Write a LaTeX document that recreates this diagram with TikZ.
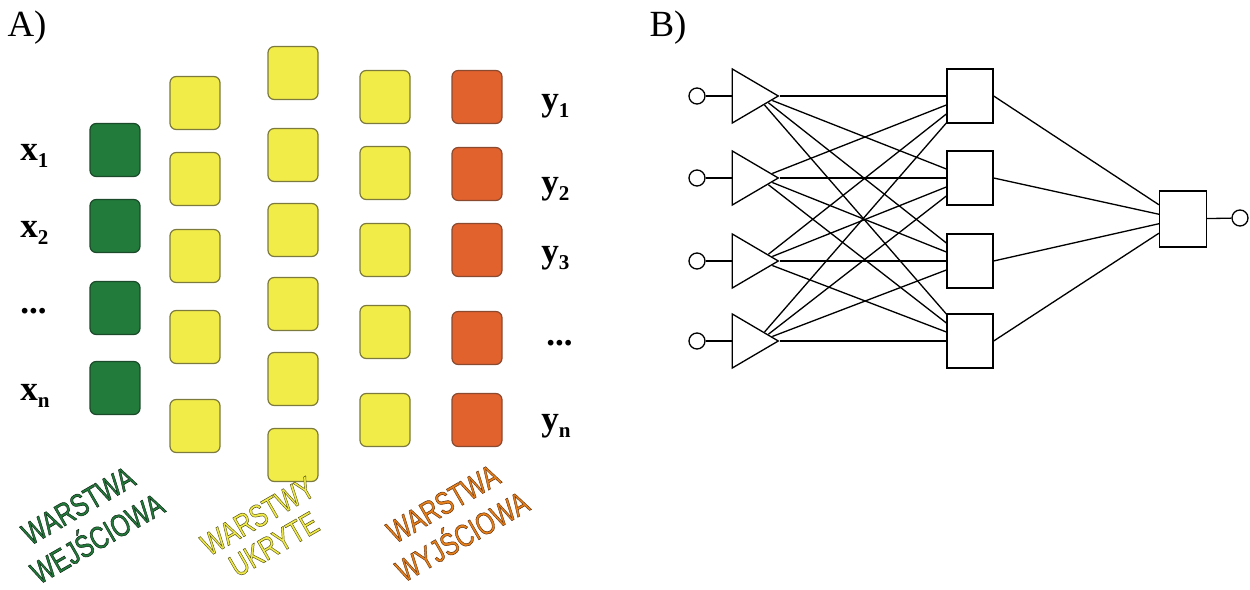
\documentclass[tikz,border=0pt]{standalone}
\usepackage{fontspec}
\setmainfont{Liberation Serif}
\newfontfamily\wordart{Liberation Sans}
\usetikzlibrary{calc}
\usetikzlibrary{shapes.geometric}
\RequirePackage{xcolor}
\definecolor{LAYERgreen}{HTML}{237B3B}
\definecolor{LAYERgreenline}{HTML}{1B4A2A}
\definecolor{LAYERyellow}{HTML}{F1EC48}
\definecolor{LAYERyellowline}{HTML}{7C7A3C}
\definecolor{LAYERorange}{HTML}{E2622E}
\definecolor{LAYERorangeline}{HTML}{8A4A30}
\definecolor{LAYERorangetext}{HTML}{E8801A}

\newcommand{\sublabel}[2]{#1\raisebox{-0.45ex}{\fontsize{12}{12}\selectfont #2}}
\newcommand{\outlined}[2]{\special{pdf:literal direct #1 RG 2 Tr 0.3 w}#2}

\begin{document}
\begin{tikzpicture}[x=0.02cm,y=-0.02cm,
  cell/.style={draw,rounded corners=3.5pt,line width=0.7pt,minimum width=1cm,minimum height=1.06cm,inner sep=0pt},
  inputcell/.style={cell,fill=LAYERgreen,draw=LAYERgreenline},
  hiddencell/.style={cell,fill=LAYERyellow,draw=LAYERyellowline},
  outputcell/.style={cell,fill=LAYERorange,draw=LAYERorangeline},
  varlabel/.style={font=\bfseries\fontsize{20}{20}\selectfont,inner sep=0pt,anchor=west},
  layertext/.style={rotate=30,inner sep=0pt,font=\wordart\fontsize{18}{18.5}\selectfont},
  wire/.style={line width=0.75pt},
  port/.style={draw,circle,line width=0.75pt,minimum size=0.32cm,inner sep=0pt},
  amp/.style={draw,isosceles triangle,isosceles triangle stretches,line width=0.75pt,minimum width=1.08cm,minimum height=0.92cm,inner sep=0pt,anchor=apex},
  unit/.style={draw,rectangle,line width=0.75pt,minimum width=0.92cm,minimum height=1.08cm,inner sep=0pt}]

\useasboundingbox (0,0) rectangle (1250,590);

% Panel A
\node[font=\fontsize{21}{21}\selectfont,inner sep=0pt] (panelA) at (27,28) {A)};

% input layer
\foreach \y [count=\k] in {150,226,308,388}
  \node[inputcell] (in\k) at (115,\y) {};

% hidden layers
\foreach \y [count=\k] in {103,179,256,337,426}
  \node[hiddencell] (ha\k) at (195,\y) {};
\foreach \y [count=\k] in {73,155,230,304,379,455}
  \node[hiddencell] (hb\k) at (293,\y) {};
\foreach \y [count=\k] in {97,173,250,332,420}
  \node[hiddencell] (hc\k) at (385,\y) {};

% output layer
\foreach \y [count=\k] in {97,174,250,338,420}
  \node[outputcell] (out\k) at (477,\y) {};

% variables
\node[varlabel] (x1) at (20,156) {\sublabel{x}{1}};
\node[varlabel] (x2) at (20,233) {\sublabel{x}{2}};
\node[varlabel] (xdots) at (20,311) {...};
\node[varlabel] (xn) at (20,396) {\sublabel{x}{n}};
\node[varlabel] (y1) at (541,106) {\sublabel{y}{1}};
\node[varlabel] (y2) at (541,189) {\sublabel{y}{2}};
\node[varlabel] (y3) at (541,258) {\sublabel{y}{3}};
\node[varlabel] (ydots) at (546,343) {...};
\node[varlabel] (yn) at (541,426) {\sublabel{y}{n}};

% layer names
\node[layertext,text=LAYERgreen] (inname) at (90,526)
  {\scalebox{0.76}[1]{\outlined{0.05 0.15 0.08}{\begin{tabular}{@{}c@{}}WARSTWA\\WEJŚCIOWA\end{tabular}}}};
\node[layertext,text=LAYERyellow] (hidname) at (268,534)
  {\scalebox{0.76}[1]{\outlined{0.35 0.33 0.1}{\begin{tabular}{@{}c@{}}WARSTWY\\UKRYTE\end{tabular}}}};
\node[layertext,text=LAYERorangetext] (outname) at (455,524)
  {\scalebox{0.76}[1]{\outlined{0.4 0.2 0.05}{\begin{tabular}{@{}c@{}}WARSTWA\\WYJŚCIOWA\end{tabular}}}};

% Panel B
\node[font=\fontsize{21}{21}\selectfont,inner sep=0pt] (panelB) at (668,28) {B)};

\foreach \y [count=\k] in {96,178,261,341}{
  \node[port] (src\k) at (697,\y) {};
  \node[amp] (amp\k) at (780,\y) {};
  \node[unit] (neu\k) at (970,\y) {};
  \draw[wire] (src\k) -- (amp\k);
}
\node[unit,minimum width=0.94cm,minimum height=1.12cm] (fin) at (1183,219) {};
\node[port] (dst) at (1240,218) {};

% connections
\foreach \i in {1,...,4}{
  \foreach \j in {1,...,4}{
    \ifnum\i=\j
      \draw[wire] (amp\i.apex) -- (neu\j.west);
    \else
      \pgfmathsetmacro{\slide}{0.08*abs(\j-\i)+0.08}
      \ifnum\j>\i \def\corner{right corner}\else\def\corner{left corner}\fi
      \draw[wire] ($(amp\i.apex)!\slide!(amp\i.\corner)$) -- ($(neu\j.west)+(0,{(\i-\j)*9})$);
    \fi
  }
}
\foreach \j in {1,...,4}
  \draw[wire] (neu\j.east) -- ($(fin.west)+(0,{(\j-2.5)*9.5})$);
\draw[wire] (fin) -- (dst);

\end{tikzpicture}
\end{document}
